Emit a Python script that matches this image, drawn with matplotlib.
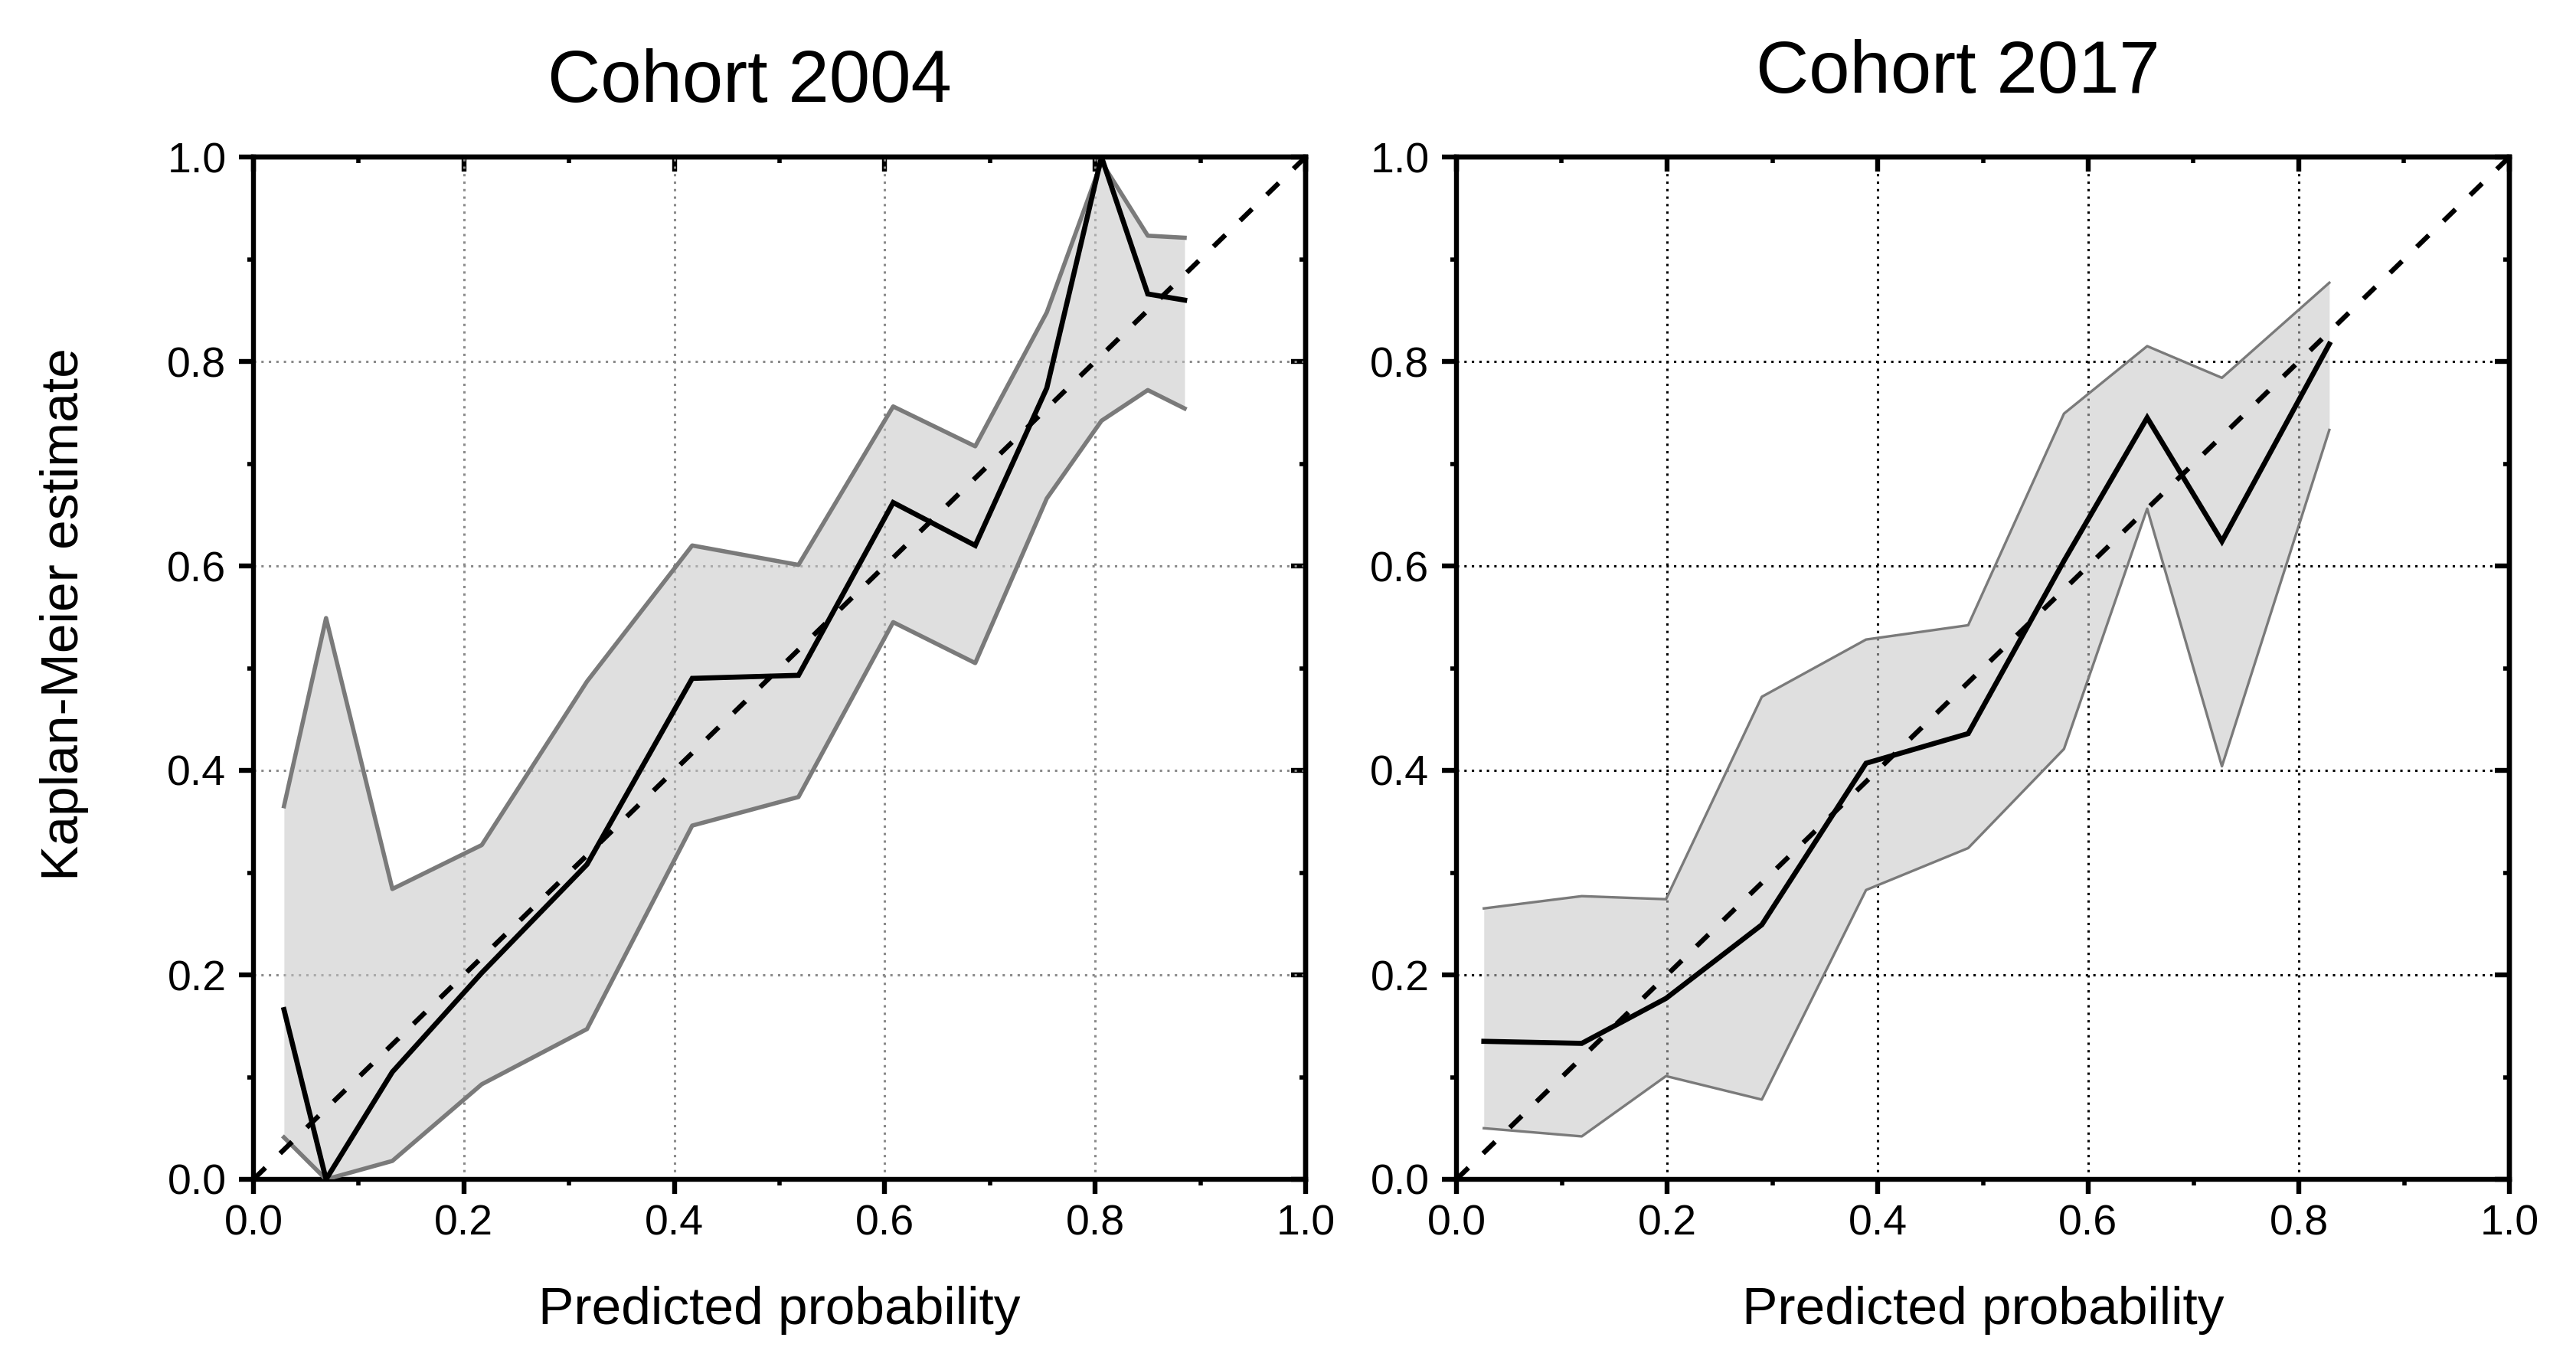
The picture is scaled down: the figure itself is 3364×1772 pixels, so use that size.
import matplotlib
matplotlib.use("Agg")
import matplotlib.pyplot as plt
from matplotlib.ticker import MultipleLocator, FormatStrFormatter

plt.rcParams['font.family'] = ['Liberation Sans', 'DejaVu Sans']

# ---- data: Cohort 2004 ----
x04 = [0.029, 0.069, 0.132, 0.217, 0.317, 0.417, 0.518, 0.608, 0.686, 0.754, 0.806, 0.850, 0.885]
km04 = [0.166, 0.000, 0.105, 0.202, 0.308, 0.490, 0.493, 0.662, 0.620, 0.774, 1.000, 0.866, 0.860]
up04 = [0.365, 0.549, 0.284, 0.327, 0.487, 0.620, 0.601, 0.756, 0.717, 0.848, 0.995, 0.923, 0.921]
lo04 = [0.041, 0.000, 0.018, 0.093, 0.147, 0.346, 0.374, 0.545, 0.505, 0.666, 0.742, 0.772, 0.754]

# ---- data: Cohort 2017 ----
x17 = [0.026, 0.119, 0.199, 0.290, 0.389, 0.486, 0.577, 0.656, 0.727, 0.829]
km17 = [0.135, 0.133, 0.177, 0.249, 0.407, 0.436, 0.605, 0.745, 0.624, 0.817]
up17 = [0.265, 0.277, 0.274, 0.472, 0.528, 0.542, 0.749, 0.815, 0.784, 0.877]
lo17 = [0.050, 0.042, 0.101, 0.078, 0.283, 0.324, 0.421, 0.656, 0.404, 0.733]

titles = ["Cohort 2004", "Cohort 2017"]
xlabel = "Predicted probability"
ylabel = "Kaplan-Meier estimate"

fig = plt.figure(figsize=(16.82, 8.86), dpi=200)
ax1 = fig.add_axes([331/3364, 232/1772, 1374/3364, 1335/1772])
ax2 = fig.add_axes([1902/3364, 232/1772, 1375/3364, 1335/1772])

panels = [
    (ax1, x04, km04, up04, lo04, '#8a8a8a', 2.0),
    (ax2, x17, km17, up17, lo17, '#000000', 1.2),
]

for ax, x, km, up, lo, gridc, bandlw in panels:
    ax.set_xlim(0, 1)
    ax.set_ylim(0, 1)
    ax.fill_between(x, lo, up, color='#c6c6c6', alpha=0.55, lw=0, zorder=2)
    ax.plot(x, up, color='#7a7a7a', lw=bandlw, zorder=3)
    ax.plot(x, lo, color='#7a7a7a', lw=bandlw, zorder=3)
    ax.plot(x, km, color='black', lw=2.4, zorder=4, solid_joinstyle='miter')
    ax.plot([0, 1], [0, 1], color='black', lw=2.3, dashes=(3.4, 4.2), zorder=5)
    ax.set_axisbelow(True)
    ax.grid(True, which='major', color=gridc, ls=(0, (1, 2.2)), lw=1.1, zorder=1)
    for axis in (ax.xaxis, ax.yaxis):
        axis.set_major_locator(MultipleLocator(0.2))
        axis.set_minor_locator(MultipleLocator(0.1))
        axis.set_major_formatter(FormatStrFormatter('%.1f'))
    ax.tick_params(which='major', direction='out', length=6.8, width=2.3,
                   labelsize=20, top=False, right=False)
    ax.tick_params(axis='x', which='major', pad=5)
    ax.tick_params(axis='y', which='major', pad=6)
    ax.tick_params(which='minor', direction='out', length=3.0, width=2.0,
                   top=False, right=False)
    for s in ax.spines.values():
        s.set_linewidth(2.3)
    # inward ticks on top and right
    sx = ax.secondary_xaxis('top')
    sy = ax.secondary_yaxis('right')
    for sec, axis in ((sx, sx.xaxis), (sy, sy.yaxis)):
        axis.set_major_locator(MultipleLocator(0.2))
        axis.set_minor_locator(MultipleLocator(0.1))
        sec.tick_params(which='major', direction='in', length=6.8, width=2.3,
                        labelleft=False, labelright=False, labeltop=False, labelbottom=False)
        sec.tick_params(which='minor', direction='in', length=3.0, width=2.0)
        for s in sec.spines.values():
            s.set_linewidth(2.3)

fig.text(979/3364, 1 - 133/1772, titles[0], ha='center', va='baseline', fontsize=34.5)
fig.text(2557/3364, 1 - 121/1772, titles[1], ha='center', va='baseline', fontsize=34.5)
fig.text(1018/3364, 1 - 1729/1772, xlabel, ha='center', va='baseline', fontsize=25)
fig.text(2590/3364, 1 - 1729/1772, xlabel, ha='center', va='baseline', fontsize=25)
fig.text(84/3364, 1 - 802/1772, ylabel, ha='center', va='center', rotation=90, fontsize=25)

fig.savefig("out.png", dpi=200)
